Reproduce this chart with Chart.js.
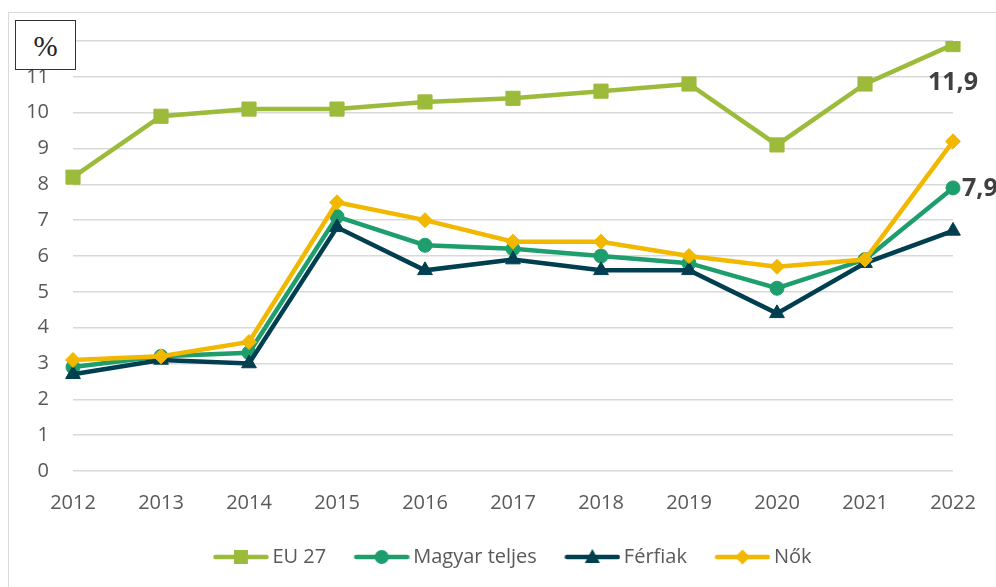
<!DOCTYPE html>
<html>
<head>
<meta charset="utf-8">
<script src="https://cdn.jsdelivr.net/npm/chart.js@4"></script>
<style>
  body { margin: 0; background: #fff; }
  #wrap { position: relative; width: 996px; height: 587px; overflow: hidden; }
  #frame { position: absolute; left: 8px; top: 12px; width: 1000px; height: 600px; border: 1.5px solid #d9d9d9; }
  #unit { position: absolute; left: 15px; top: 20px; width: 59px; height: 48px; border: 1.5px solid #333;
          background: #fff; font-family: "Liberation Serif", "DejaVu Serif", serif; font-size: 29px; color: #222;
          text-align: center; line-height: 50px; }
  canvas { position: absolute; left: 0; top: 0; }
</style>
</head>
<body>
<div id="wrap">
  <div id="frame"></div>
  <canvas id="chart" width="996" height="587"></canvas>
  <div id="unit">%</div>
</div>
<script>
// adatok
const years = ["2012", "2013", "2014", "2015", "2016", "2017", "2018", "2019", "2020", "2021", "2022"];
const eu27 = [8.2, 9.9, 10.1, 10.1, 10.3, 10.4, 10.6, 10.8, 9.1, 10.8, 11.9];
const magyarTeljes = [2.9, 3.2, 3.3, 7.1, 6.3, 6.2, 6.0, 5.8, 5.1, 5.9, 7.9];
const ferfiak = [2.7, 3.1, 3.0, 6.8, 5.6, 5.9, 5.6, 5.6, 4.4, 5.8, 6.7];
const nok = [3.1, 3.2, 3.6, 7.5, 7.0, 6.4, 6.4, 6.0, 5.7, 5.9, 9.2];
const seriesNames = ["EU 27", "Magyar teljes", "Férfiak", "Nők"];
const colors = ["#9dbb3b", "#1f9e6d", "#003f50", "#f2b800"];
const markers = ["rect", "circle", "triangle", "rectRot"];
const radii = [10, 7, 8.5, 7.5];
const textColor = "#595959";

// legend ikon: vonal + jelölő
function legendIcon(i) {
    const c = document.createElement("canvas");
    c.width = 80; c.height = 22;
    const g = c.getContext("2d");
    g.strokeStyle = colors[i];
    g.fillStyle = colors[i];
    g.lineWidth = 4.5;
    g.lineCap = "round";
    g.beginPath(); g.moveTo(26.5, 11); g.lineTo(77.5, 11); g.stroke();
    const cx = 52, cy = 11;
    g.beginPath();
    if (i === 0) g.rect(cx - 7, cy - 7, 14, 14);
    else if (i === 1) g.arc(cx, cy, 7, 0, Math.PI * 2);
    else if (i === 2) { g.moveTo(cx, cy - 8); g.lineTo(cx + 7.5, cy + 6); g.lineTo(cx - 7.5, cy + 6); g.closePath(); }
    else { g.moveTo(cx, cy - 7.5); g.lineTo(cx + 7.5, cy); g.lineTo(cx, cy + 7.5); g.lineTo(cx - 7.5, cy); g.closePath(); }
    g.fill();
    return c;
}

// utolsó értékek címkéi
const endLabels = {
    id: "endLabels",
    afterLayout(chart) {
        // a jelmagyarázat a rajzterület közepéhez igazodik
        chart.legend.left += 27;
        chart.legend.right += 27;
    },
    afterDatasetsDraw(chart) {
        const ctx = chart.ctx;
        ctx.save();
        ctx.fillStyle = "#404040";
        ctx.font = "bold 25px 'Open Sans'";
        ctx.textBaseline = "middle";
        const last = years.length - 1;
        const p0 = chart.getDatasetMeta(0).data[last];
        ctx.textAlign = "center";
        ctx.fillText(String(eu27[last]).replace(".", ","), p0.x, p0.y + 38);
        const p1 = chart.getDatasetMeta(1).data[last];
        ctx.textAlign = "left";
        ctx.fillText(String(magyarTeljes[last]).replace(".", ","), p1.x + 9, p1.y + 1);
        ctx.restore();
    }
};

const allData = [eu27, magyarTeljes, ferfiak, nok];
const icons = seriesNames.map((_, i) => legendIcon(i));

new Chart(document.getElementById("chart"), {
    type: "line",
    data: {
        labels: years,
        datasets: seriesNames.map((name, i) => ({
            label: name,
            data: allData[i],
            borderColor: colors[i],
            backgroundColor: colors[i],
            borderWidth: 4.5,
            pointStyle: markers[i],
            pointRadius: radii[i],
            pointBorderWidth: 1,
            pointBackgroundColor: colors[i],
            pointBorderColor: colors[i],
            tension: 0,
            order: 3 - i
        }))
    },
    options: {
        responsive: false,
        animation: false,
        layout: { padding: { top: 41, right: 43, bottom: 10, left: 0 } },
        plugins: {
            tooltip: { enabled: false },
            legend: {
                position: "bottom",
                labels: {
                    usePointStyle: true,
                    pointStyleWidth: 67,
                    padding: 10,
                    color: textColor,
                    font: { family: "'Open Sans'", size: 20 },
                    generateLabels: () => seriesNames.map((name, i) => ({
                        text: name,
                        fillStyle: colors[i],
                        strokeStyle: colors[i],
                        lineWidth: 0,
                        pointStyle: icons[i],
                        fontColor: textColor,
                        datasetIndex: i,
                        hidden: false
                    }))
                }
            }
        },
        scales: {
            x: {
                offset: false,
                grid: { display: false, drawTicks: false },
                border: { display: false },
                ticks: { color: textColor, font: { family: "'Open Sans'", size: 20 }, padding: 20, maxRotation: 0 },
                afterFit: s => { s.height = 66; }
            },
            y: {
                min: 0,
                max: 12,
                grid: { color: "#d9d9d9", lineWidth: 1.5, drawTicks: false },
                border: { display: false },
                ticks: { stepSize: 1, color: textColor, font: { family: "'Open Sans'", size: 20 }, padding: 24 },
                afterFit: s => { s.width = 73; }
            }
        }
    },
    plugins: [endLabels]
});
</script>
</body>
</html>
